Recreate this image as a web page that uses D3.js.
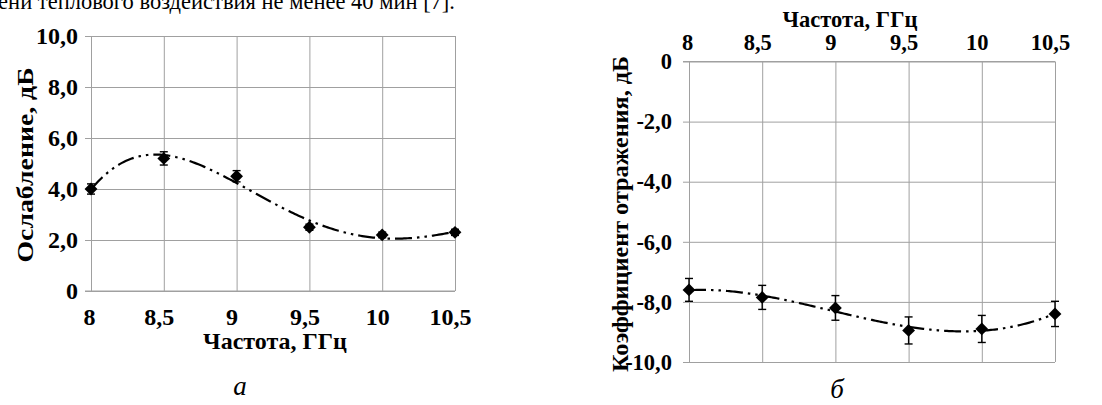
<!DOCTYPE html>
<html>
<head>
<meta charset="utf-8">
<script src="https://cdn.jsdelivr.net/npm/d3@7"></script>
<style>
  body { margin: 0; background: #fff; }
  svg { display: block; }
</style>
</head>
<body>
<div id="chart"></div>
<script>
// Data
const freq = [8, 8.5, 9, 9.5, 10, 10.5];
const freqTicks = ["8", "8,5", "9", "9,5", "10", "10,5"];
const attenuation = [4.0, 5.2, 4.5, 2.5, 2.2, 2.3];
const attenuationErr = [0.2, 0.26, 0.22, 0.12, 0.11, 0.12];
const attenuationTicks = [0, 2, 4, 6, 8, 10];
const reflection = [-7.6, -7.85, -8.2, -8.95, -8.9, -8.4];
const reflectionErr = [0.38, 0.4, 0.41, 0.45, 0.45, 0.42];
const reflectionTicks = [0, -2, -4, -6, -8, -10];

const W = 1102, H = 405;
const gridColor = "#a0a0a0";
const serif = "Liberation Serif";

const svg = d3.select("#chart").append("svg")
  .attr("width", W)
  .attr("height", H)
  .attr("font-family", serif);

// cut-off line of the page text above the figure
svg.append("text")
  .attr("x", 455)
  .attr("y", 9)
  .attr("text-anchor", "end")
  .attr("font-family", serif)
  .attr("font-size", 22.5)
  .text("времени теплового воздействия не менее 40 мин [7].");

// least squares polynomial (Excel-like trend line)
function polyFit(xs, ys, deg) {
  const xm = d3.mean(xs);
  const n = deg + 1;
  const A = [];
  for (let i = 0; i < n; i++) {
    A.push(new Array(n + 1).fill(0));
  }
  xs.forEach((x, k) => {
    const t = x - xm;
    for (let i = 0; i < n; i++) {
      for (let j = 0; j < n; j++) A[i][j] += Math.pow(t, i + j);
      A[i][n] += ys[k] * Math.pow(t, i);
    }
  });
  for (let i = 0; i < n; i++) {
    let p = i;
    for (let r = i + 1; r < n; r++) if (Math.abs(A[r][i]) > Math.abs(A[p][i])) p = r;
    [A[i], A[p]] = [A[p], A[i]];
    for (let r = 0; r < n; r++) {
      if (r === i) continue;
      const f = A[r][i] / A[i][i];
      for (let c = i; c <= n; c++) A[r][c] -= f * A[i][c];
    }
  }
  const coef = A.map((row, i) => row[n] / row[i]);
  return x => coef.reduce((s, c, i) => s + c * Math.pow(x - xm, i), 0);
}

function drawPanel(opt) {
  const g = svg.append("g");
  const x = d3.scalePoint().domain(freq).range([opt.x0, opt.x1]);
  const xs = d3.scaleLinear().domain([8, 10.5]).range([opt.x0, opt.x1]);
  const y = d3.scaleLinear().domain(opt.yDomain).range([opt.y1, opt.y0]);

  // horizontal grid + y labels
  const yAxis = d3.axisLeft(y)
    .tickValues(opt.yTicks)
    .tickSize(-(opt.x1 - opt.x0 + 6))
    .tickSizeOuter(0)
    .tickPadding(opt.yPad)
    .tickFormat(d => d === 0 ? "0" : d3.format(".1f")(d).replace(".", ",").replace("−", "-"));
  const gy = g.append("g")
    .attr("transform", `translate(${opt.x0 - 6},0)`)
    .call(yAxis)
    .attr("font-family", serif)
    .attr("font-size", opt.tickSize)
    .attr("font-weight", "bold");
  gy.select(".domain").remove();
  gy.selectAll("line").attr("stroke", gridColor);
  gy.selectAll("text").attr("fill", "#000");

  // vertical grid + x labels
  const xAxis = (opt.top ? d3.axisTop(x) : d3.axisBottom(x))
    .tickSize(-(opt.y1 - opt.y0))
    .tickSizeOuter(0)
    .tickPadding(opt.xPad)
    .tickFormat((d, i) => freqTicks[i]);
  const gx = g.append("g")
    .attr("transform", `translate(0,${opt.top ? opt.y0 : opt.y1})`)
    .call(xAxis)
    .attr("font-family", serif)
    .attr("font-size", opt.tickSize)
    .attr("font-weight", "bold");
  gx.select(".domain").remove();
  gx.selectAll("line").attr("stroke", gridColor);
  gx.selectAll("text")
    .attr("fill", "#000")
    .attr("dx", (d, i) => i === 0 ? -2 : -5);

  // axis line along the x-axis side
  g.append("line")
    .attr("x1", opt.x0 - 6).attr("x2", opt.x1)
    .attr("y1", opt.top ? opt.y0 : opt.y1).attr("y2", opt.top ? opt.y0 : opt.y1)
    .attr("stroke", gridColor);

  // trend line
  const fit = polyFit(freq, opt.values, 4);
  const curve = d3.range(0, 201).map(i => 8 + 2.5 * i / 200);
  g.append("path")
    .datum(curve)
    .attr("fill", "none")
    .attr("stroke", "#000")
    .attr("stroke-width", 2.2)
    .attr("stroke-dasharray", "17,5,2.5,5,2.5,5")
    .attr("d", d3.line().x(d => xs(d)).y(d => y(fit(d))));

  // error bars
  const eb = g.selectAll(".err")
    .data(freq)
    .join("g");
  eb.append("line")
    .attr("x1", d => x(d)).attr("x2", d => x(d))
    .attr("y1", (d, i) => y(opt.values[i] + opt.errs[i]))
    .attr("y2", (d, i) => y(opt.values[i] - opt.errs[i]))
    .attr("stroke", "#000").attr("stroke-width", 1.4);
  [1, -1].forEach(s => {
    eb.append("line")
      .attr("x1", d => x(d) - 4).attr("x2", d => x(d) + 4)
      .attr("y1", (d, i) => y(opt.values[i] + s * opt.errs[i]))
      .attr("y2", (d, i) => y(opt.values[i] + s * opt.errs[i]))
      .attr("stroke", "#000").attr("stroke-width", 1.4);
  });

  // diamond markers
  g.selectAll(".pt")
    .data(freq)
    .join("path")
    .attr("d", d3.symbol(d3.symbolDiamond2, 105))
    .attr("transform", (d, i) => `translate(${x(d)},${y(opt.values[i])})`)
    .attr("fill", "#000");

  // axis titles
  g.append("text")
    .attr("transform", `translate(${opt.yTitleX},${opt.yTitleY}) rotate(-90)`)
    .attr("text-anchor", "middle")
    .attr("textLength", opt.yTitleLen)
    .attr("lengthAdjust", "spacingAndGlyphs")
    .attr("font-family", serif)
    .attr("font-size", opt.titleSize)
    .attr("font-weight", "bold")
    .text(opt.yTitle);
  g.append("text")
    .attr("x", opt.xTitleX)
    .attr("y", opt.xTitleY)
    .attr("text-anchor", "middle")
    .attr("font-family", serif)
    .attr("font-size", opt.titleSize)
    .attr("font-weight", "bold")
    .text("Частота, ГГц");

  // sub caption
  g.append("text")
    .attr("x", opt.capX)
    .attr("y", opt.capY)
    .attr("text-anchor", "middle")
    .attr("font-family", serif)
    .attr("font-size", 27)
    .attr("font-style", "italic")
    .text(opt.caption);
}

drawPanel({
  x0: 91, x1: 455, y0: 36, y1: 291,
  yDomain: [0, 10], yTicks: attenuationTicks,
  values: attenuation, errs: attenuationErr,
  top: false, yPad: 7, xPad: 17, tickSize: 24,
  yTitle: "Ослабление, дБ", yTitleX: 33, yTitleY: 165, yTitleLen: 195,
  xTitleX: 275, xTitleY: 349, titleSize: 24,
  caption: "а", capX: 240, capY: 395
});

drawPanel({
  x0: 689, x1: 1055, y0: 61.5, y1: 362,
  yDomain: [-10, 0], yTicks: reflectionTicks,
  values: reflection, errs: reflectionErr,
  top: true, yPad: 11, xPad: 11.5, tickSize: 22.5,
  yTitle: "Коэффициент отражения, дБ", yTitleX: 628, yTitleY: 214, yTitleLen: 316,
  xTitleX: 850, xTitleY: 27, titleSize: 22.5,
  caption: "б", capX: 837, capY: 398
});
</script>
</body>
</html>
